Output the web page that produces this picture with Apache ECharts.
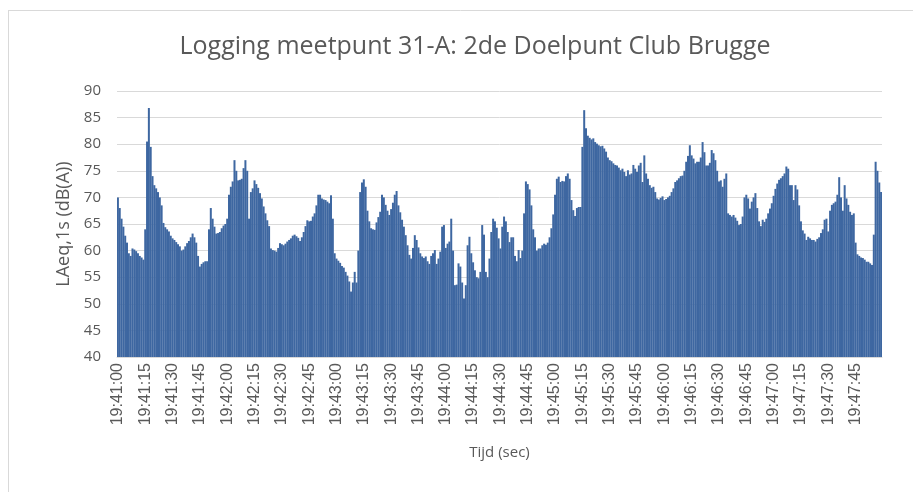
<!DOCTYPE html>
<html>
<head>
<meta charset="utf-8">
<script src="https://cdn.jsdelivr.net/npm/echarts@6/dist/echarts.min.js"></script>
<style>
  html, body { margin: 0; padding: 0; background: #ffffff; }
  #chart { width: 913px; height: 492px; }
</style>
</head>
<body>
<div id="chart"></div>
<script>
// 1-second LAeq readings (dB(A)), one array per minute, starting 19:41:00
const startTime = '19:41:00';
const level_1941 = [
  70, 68, 66, 64.5, 62.8, 61.5, 59.5, 59, 60.4, 60.2,
  59.9, 59.5, 59, 58.7, 58.3, 64, 80.5, 86.8, 79.5, 74,
  72.3, 71.7, 71, 70, 68.5, 65.2, 64.4, 64, 63.6, 62.8,
  62.3, 62, 61.6, 61.2, 60.8, 60, 60.2, 60.8, 61.4, 61.8,
  62.5, 63.2, 62.5, 61.5, 59, 57, 57.5, 57.8, 58, 58,
  64, 68, 66, 64.5, 63.2, 63.3, 63.5, 64.2, 64.7, 65
];
const level_1942 = [
  66, 70.5, 72, 73, 77, 75, 73.2, 73.3, 73.5, 75.5,
  77, 75, 66, 71, 71.7, 73.2, 72.5, 71.8, 70.8, 69.8,
  68.3, 67, 65.7, 64.6, 60.4, 60.1, 60, 59.8, 60.5, 61.4,
  61.2, 61, 61.3, 61.7, 62, 62.3, 62.8, 63, 62.7, 62.4,
  61.8, 62.5, 63.5, 64.6, 65.7, 65.5, 65.6, 66.4, 67, 68.5,
  70.5, 70.5, 69.8, 69.6, 69.5, 69.2, 68.9, 70.4, 66, 59.5
];
const level_1943 = [
  58.5, 58.1, 57.7, 57.1, 56.8, 56, 55.3, 54.2, 52.3, 54,
  56, 54, 60, 71, 72.8, 73.4, 72, 67.5, 65.5, 64.2,
  64, 63.9, 65.3, 66.3, 67.3, 70.5, 70, 68.6, 67.5, 66.7,
  67.8, 69, 70.5, 71.2, 68.5, 67.2, 65.8, 64.5, 62.9, 61,
  59.2, 58.5, 60.5, 62.9, 62, 60.6, 59.5, 58.9, 58.6, 58.9,
  58, 57.5, 59, 59.5, 60.1, 57.5, 58.5, 59.8, 64.5, 64.8
];
const level_1944 = [
  60.5, 61.3, 61.7, 66, 60, 53.5, 53.6, 57.6, 57, 54,
  51, 53.5, 61, 62.6, 59.5, 57.8, 56.3, 55, 54.8, 56,
  64.8, 63, 56, 55, 58.5, 63.5, 66, 65.5, 64.3, 62.3,
  60.4, 64.5, 66.4, 65.5, 63.5, 61.6, 62.5, 62.5, 59, 58,
  60.1, 58.6, 60, 67, 73, 72.5, 71.5, 68.5, 64, 62.5,
  60, 60.4, 60.4, 61, 61.3, 61.1, 61.5, 62.5, 64.2, 66.8
];
const level_1945 = [
  70.5, 73.5, 73.9, 72.9, 73.1, 73, 74, 74.5, 73.5, 69.5,
  67.6, 66.5, 68, 68.2, 68.2, 79.5, 86.4, 83, 81.6, 81.2,
  80.9, 81.1, 80.4, 80.1, 79.8, 79.6, 79.7, 79.2, 78.6, 77.5,
  77, 76.8, 76.4, 76.1, 76, 75.6, 75.1, 75.4, 74.8, 74,
  75.1, 74.3, 74.5, 76.1, 75.4, 74.8, 76, 76.5, 72.9, 77.9,
  74.5, 73.5, 72.3, 71.8, 72, 71, 69.8, 69.6, 69.9, 70.2
];
const level_1946 = [
  69.5, 69.7, 70, 70.3, 71, 71.7, 72.9, 73.2, 73.6, 74,
  74.1, 75, 76.7, 77.8, 79.8, 77.9, 77.3, 76.4, 76.7, 76.7,
  77.5, 80.4, 78.5, 76, 76, 76.5, 78.9, 78.3, 77, 75,
  73, 73.2, 72, 73.5, 74.5, 67, 66.7, 66.4, 66.7, 66.2,
  65.6, 64.8, 65, 66.4, 70, 70.5, 69.8, 67.9, 69.2, 70,
  70.8, 68, 65.5, 64.6, 65.8, 65.4, 66, 67, 67.9, 68.9
];
const level_1947 = [
  70.3, 71.6, 72.6, 73.3, 73.6, 74, 74.5, 75.8, 75.4, 72.3,
  72.3, 69.5, 72.3, 71.5, 68.5, 65.5, 63.8, 63.2, 62, 62.6,
  62.3, 62, 62, 61.7, 62.2, 62.5, 63.3, 64, 65.8, 66,
  63.6, 67.5, 68.6, 68.9, 69.2, 70.5, 73.8, 70, 67.5, 72.3,
  69.8, 68.6, 67.3, 66.7, 67, 61.5, 59.3, 59, 58.7, 58.6,
  58.3, 57.9, 57.9, 57.6, 57.3, 63, 76.7, 75, 72.8, 71
];

const levels = [].concat(level_1941, level_1942, level_1943, level_1944,
                         level_1945, level_1946, level_1947);

// one "hh:mm:ss" category per reading
function clockLabels(start, count) {
  const p = start.split(':').map(Number);
  const base = p[0] * 3600 + p[1] * 60 + p[2];
  const pad = n => String(n).padStart(2, '0');
  const out = [];
  for (let i = 0; i < count; i++) {
    const s = base + i;
    out.push(pad(Math.floor(s / 3600)) + ':' + pad(Math.floor(s / 60) % 60) + ':' + pad(s % 60));
  }
  return out;
}
const times = clockLabels(startTime, levels.length);

const textGrey = '#595959';
const chart = echarts.init(document.getElementById('chart'), null, { renderer: 'canvas' });

chart.setOption({
  animation: false,
  backgroundColor: '#ffffff',
  title: {
    text: 'Logging meetpunt 31-A: 2de Doelpunt Club Brugge',
    left: 470,
    top: 29,
    textAlign: 'center',
    textStyle: { fontFamily: 'Open Sans', fontSize: 25, fontWeight: 'normal', color: textGrey }
  },
  grid: { left: 117, right: 31, top: 91, bottom: 135, containLabel: false },
  xAxis: {
    type: 'category',
    data: times,
    name: 'Tijd (sec)',
    nameLocation: 'middle',
    nameGap: 88,
    nameTextStyle: { fontFamily: 'Open Sans', fontSize: 15, color: textGrey },
    axisLine: { lineStyle: { color: '#d9d9d9' } },
    axisTick: { show: false },
    axisLabel: {
      interval: 14,
      rotate: 90,
      margin: 6,
      fontFamily: 'Liberation Sans',
      fontSize: 16,
      color: textGrey
    }
  },
  yAxis: {
    type: 'value',
    min: 40,
    max: 90,
    interval: 5,
    name: 'LAeq,1s (dB(A))',
    nameLocation: 'middle',
    nameRotate: 90,
    nameGap: 44,
    nameTextStyle: { fontFamily: 'Open Sans', fontSize: 18, color: textGrey },
    axisLine: { show: false },
    axisTick: { show: false },
    axisLabel: { fontFamily: 'Open Sans', fontSize: 15, color: textGrey, margin: 16 },
    splitLine: { lineStyle: { color: '#d9d9d9', width: 1 } }
  },
  series: [{
    type: 'bar',
    data: levels,
    barWidth: 2,
    itemStyle: { color: '#3e67a1' }
  }],
  graphic: [
    { type: 'line', shape: { x1: 8, y1: 10.5, x2: 913, y2: 10.5 }, style: { stroke: '#d9d9d9', lineWidth: 1 } },
    { type: 'line', shape: { x1: 8.5, y1: 10, x2: 8.5, y2: 492 }, style: { stroke: '#d9d9d9', lineWidth: 1 } }
  ]
});
</script>
</body>
</html>
